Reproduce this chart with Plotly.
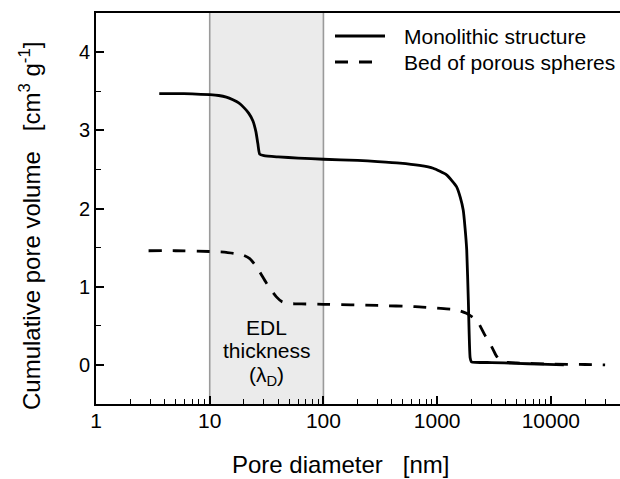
import math
import plotly.graph_objects as go

# Cumulative pore volume curves (pore diameter in nm, volume in cm3/g)
mono_d = [3.6, 5, 7, 10, 12, 14, 16, 18, 20, 22, 24, 25.5, 26.5, 27.5, 30, 40, 60,
          100, 200, 300, 470, 700, 922, 1210, 1480, 1600, 1695, 1760, 1820, 1880,
          1950, 2000, 3000, 5000, 8000, 13000]
mono_v = [3.47, 3.47, 3.465, 3.455, 3.445, 3.425, 3.39, 3.35, 3.29, 3.22, 3.12, 2.98,
          2.83, 2.695, 2.675, 2.66, 2.645, 2.63, 2.615, 2.60, 2.58, 2.55, 2.515, 2.43,
          2.28, 2.14, 1.98, 1.75, 1.47, 0.83, 0.09, 0.04, 0.03, 0.02, 0.01, 0.0]

bed_d = [2.9, 5, 10, 14, 17.4, 20, 22.5, 25, 27.5, 31.4, 35, 38.6, 43, 49, 64, 100,
         300, 640, 1000, 1380, 1600, 1810, 2050, 2280, 2630, 3020, 3300, 3500, 3800,
         5000, 10000, 20000, 30000]
bed_v = [1.46, 1.46, 1.45, 1.44, 1.42, 1.40, 1.36, 1.28, 1.19, 1.05, 0.95, 0.87, 0.81,
         0.785, 0.78, 0.775, 0.76, 0.745, 0.725, 0.71, 0.69, 0.66, 0.61, 0.55, 0.38,
         0.23, 0.12, 0.07, 0.04, 0.025, 0.01, 0.005, 0.0]

# Electric double layer thickness range (nm)
edl_range = [10, 100]

x_ticks = [1, 10, 100, 1000, 10000]
y_ticks = [0, 1, 2, 3, 4]

FONT = "Liberation Sans, Arial, sans-serif"
W, H = 620, 479
ML, MR, MT, MB = 96, 0, 13, 75
PW, PH = W - ML - MR, H - MT - MB


def px(x):
    return (x - ML) / PW


def py(y):
    return 1 - (y - MT) / PH


fig = go.Figure()

# Shaded EDL band
fig.add_vrect(x0=edl_range[0], x1=edl_range[1], fillcolor="#ebebeb", opacity=1,
              line_width=0, layer="below")
for xe in edl_range:
    fig.add_vline(x=xe, line=dict(color="#9a9a9a", width=1.6), layer="below")

fig.add_trace(go.Scatter(x=mono_d, y=mono_v, mode="lines", name="Monolithic structure",
                         line=dict(color="black", width=2.8, shape="spline", smoothing=0.5),
                         showlegend=False))
fig.add_trace(go.Scatter(x=bed_d, y=bed_v, mode="lines", name="Bed of porous spheres",
                         line=dict(color="black", width=2.8, dash="13px,11px",
                                   shape="spline", smoothing=0.5),
                         showlegend=False))

# Legend samples and labels
legend_items = [("Monolithic structure", "solid", 36), ("Bed of porous spheres", "13px,11px", 62)]
for label, dash, yy in legend_items:
    fig.add_shape(type="line", xref="paper", yref="paper", x0=px(335), x1=px(385 if dash == "solid" else 378),
                  y0=py(yy), y1=py(yy), line=dict(color="black", width=2.8, dash=dash))
    fig.add_annotation(text=label, xref="paper", yref="paper", x=px(402), y=py(yy),
                       xanchor="left", yanchor="middle", showarrow=False,
                       font=dict(size=21, color="black", family=FONT))

# EDL label inside the band
edl_center = math.log10(math.sqrt(edl_range[0] * edl_range[1]))
for txt, yv in [("EDL", 0.475), ("thickness", 0.18), ("(λ<sub>D</sub>)", -0.14)]:
    fig.add_annotation(text=txt, xref="x", yref="y", x=edl_center, y=yv,
                       xanchor="center", yanchor="middle", showarrow=False,
                       font=dict(size=21, color="black", family=FONT))

# Axis titles
fig.add_annotation(text="Pore diameter\u00a0\u00a0\u00a0[nm]", xref="paper", yref="paper",
                   x=px(340), y=py(465), xanchor="center", yanchor="middle", showarrow=False,
                   font=dict(size=24, color="black", family=FONT))
fig.add_annotation(text="Cumulative pore volume\u00a0\u00a0\u00a0[cm<sup>3</sup> g<sup>-1</sup>]",
                   xref="paper", yref="paper", x=px(30), y=py(226), textangle=-90,
                   xanchor="center", yanchor="middle", showarrow=False,
                   font=dict(size=24, color="black", family=FONT))

fig.update_xaxes(type="log", range=[0, 4.608], tickvals=x_ticks, ticktext=[str(v) for v in x_ticks],
                 ticks="inside", ticklen=8, tickwidth=1.6, tickcolor="black",
                 showline=True, linecolor="black", linewidth=2, mirror=True,
                 showgrid=False, zeroline=False, ticklabelstandoff=-3,
                 tickfont=dict(size=21, color="black", family=FONT),
                 minor=dict(ticks="inside", ticklen=5, tickwidth=1.4, tickcolor="black",
                            dtick="D1", showgrid=False))
fig.update_yaxes(range=[-0.5, 4.5], tickvals=y_ticks,
                 ticks="inside", ticklen=8, tickwidth=1.6, tickcolor="black",
                 showline=True, linecolor="black", linewidth=2, mirror=False,
                 showgrid=False, zeroline=False,
                 tickfont=dict(size=20, color="black", family=FONT),
                 minor=dict(ticks="inside", ticklen=5, tickwidth=1.4, tickcolor="black",
                            dtick=0.5, showgrid=False))

fig.update_layout(width=W, height=H, margin=dict(l=ML, r=MR, t=MT, b=MB),
                  plot_bgcolor="white", paper_bgcolor="white",
                  font=dict(family=FONT, color="black"), showlegend=False)

fig.write_html("out.html")
